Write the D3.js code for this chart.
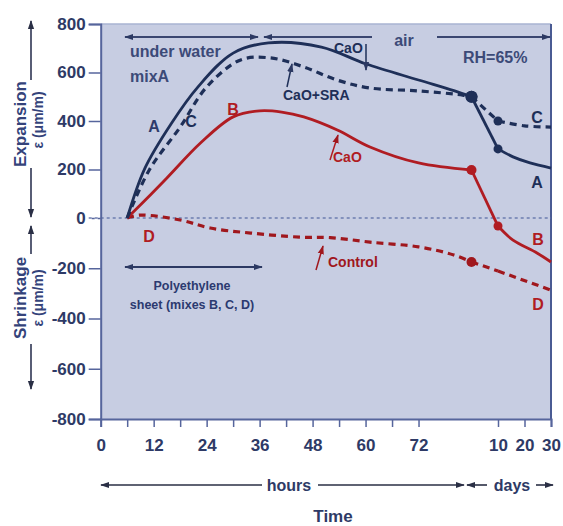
<!DOCTYPE html>
<html>
<head>
<meta charset="utf-8">
<script src="https://cdn.jsdelivr.net/npm/d3@7"></script>
<style>
  html, body { margin: 0; padding: 0; background: #ffffff; }
  svg { display: block; }
  text { font-family: "Liberation Sans", Arial, Helvetica, sans-serif; font-weight: bold; }
</style>
</head>
<body>
<svg id="chart" width="563" height="526"></svg>
<script>
// Strain development of the four mixes, time in hours (days converted to hours)
const hoursA  = [6, 10, 16, 22, 30, 38, 50, 60, 72, 80, 84, 240, 376, 530, 720];
const strainA = [0, 205, 390, 540, 680, 722, 705, 636, 569, 525, 500, 285, 252, 227, 206];

const hoursC  = [6, 11, 18, 24, 31.7, 38.5, 46, 53.5, 61, 72, 82, 84, 240, 480, 720];
const strainC = [0, 198, 375, 540, 652, 660, 623, 569, 536, 524, 507, 500, 400, 380, 375];

const hoursB  = [6, 10, 15, 22.6, 30, 36, 41, 46, 53.6, 61, 72, 84, 240, 376, 593, 720];
const strainB = [0, 72, 165, 309, 417, 442, 437, 417, 363, 293, 227, 198, -32, -88, -139, -175];

const hoursD  = [6, 9, 18, 24.8, 34, 45, 52, 61, 72, 80, 84, 240, 720];
const strainD = [0, 12, -8, -40, -60, -76, -78, -96, -115, -147, -175, -211, -287];

// Measurement points marked with dots
const dotHoursA = [84, 240];
const dotHoursC = [84, 240];
const dotHoursB = [84, 240];
const dotHoursD = [84];

// End of moist curing and the 10-day reading (hours): the curves bend sharply there
const breakHours = [84, 240];

// Axis ticks
const yTicks = [-800, -600, -400, -200, 0, 200, 400, 600, 800];
const xTickHours = [0, 6, 12, 18, 24, 30, 36, 42, 48, 54, 60, 66, 72, 240, 480, 720];
const xTickText  = ["0", "", "12", "", "24", "", "36", "", "48", "", "60", "", "72", "10", "20", "30"];

// ---------------------------------------------------------------------
const svg = d3.select("#chart");
const navy = "#1e2f58";
const red = "#b01c22";
const darkRed = "#a0171d";
const textNavy = "#2e3a66";
const axisBlue = "#56659c";

const plotL = 100.7, plotR = 551, plotT = 24, plotB = 419;

// Hours run linearly to 84 h; the days part (10, 20, 30 d) is compressed
const x = d3.scaleLinear()
  .domain([0, 84, 240, 720])
  .range([plotL, 471.5, 498, plotR]);

const y = d3.scaleLinear()
  .domain([-800, 0, 800])
  .range([plotB, 218, plotT]);

// arrowheads
const defs = svg.append("defs");
function marker(id, color, size) {
  defs.append("marker")
    .attr("id", id)
    .attr("viewBox", "0 0 10 10")
    .attr("refX", 9).attr("refY", 5)
    .attr("markerWidth", size).attr("markerHeight", size)
    .attr("markerUnits", "userSpaceOnUse")
    .attr("orient", "auto-start-reverse")
    .append("path")
    .attr("d", "M0,1.5 L10,5 L0,8.5 Z")
    .attr("fill", color);
}
marker("arrNavy", "#2c3963", 9);
marker("arrRed", "#a0171d", 9);
marker("arrBlk", "#2a2f45", 9);

// plot area
svg.append("rect")
  .attr("x", plotL).attr("y", plotT)
  .attr("width", plotR - plotL).attr("height", plotB - plotT)
  .attr("fill", "#c7cde2");
svg.append("line")
  .attr("x1", plotL).attr("x2", plotR).attr("y1", plotT).attr("y2", plotT)
  .attr("stroke", "#a9b3d2").attr("stroke-width", 1.5);
svg.append("line")
  .attr("x1", plotR).attr("x2", plotR).attr("y1", plotT).attr("y2", plotB)
  .attr("stroke", "#4a5b93").attr("stroke-width", 2);

// zero reference line
svg.append("line")
  .attr("x1", plotL - 12).attr("x2", plotR).attr("y1", y(0)).attr("y2", y(0))
  .attr("stroke", "#6d7db0").attr("stroke-width", 1.3)
  .attr("stroke-dasharray", "3,3");

const tickFont = "'Liberation Sans', Arial, sans-serif";

// y axis
const yAxis = svg.append("g")
  .attr("transform", `translate(${plotL},0)`)
  .call(d3.axisLeft(y).tickValues(yTicks).tickSize(12).tickPadding(3).tickFormat(d => String(d)));
yAxis.select(".domain").attr("stroke", axisBlue).attr("stroke-width", 2);
yAxis.selectAll(".tick line").attr("stroke", axisBlue).attr("stroke-width", 1.5)
  .filter(d => d === 0).attr("stroke-dasharray", "3,3").attr("stroke-width", 1.3);
yAxis.selectAll(".tick text")
  .attr("fill", textNavy).attr("font-size", 17)
  .style("font-family", tickFont).style("font-weight", "bold");

// x axis
const xAxis = svg.append("g")
  .attr("transform", `translate(0,${plotB})`)
  .call(d3.axisBottom(x).tickValues(xTickHours).tickSize(8).tickPadding(12)
    .tickFormat((d, i) => xTickText[i]));
xAxis.select(".domain").attr("stroke", axisBlue).attr("stroke-width", 2);
xAxis.selectAll(".tick line").attr("stroke", axisBlue).attr("stroke-width", 1.5);
xAxis.selectAll(".tick text")
  .attr("fill", textNavy).attr("font-size", 17)
  .style("font-family", tickFont).style("font-weight", "bold");

// curves: drawn in pieces between the break points so those bends stay sharp
const line = d3.line().x(d => x(d[0])).y(d => y(d[1])).curve(d3.curveCatmullRom.alpha(0.5));

function series(hours, strain, dots, color, dashed, firstDotR) {
  const pts = hours.map((h, i) => [h, strain[i]]);
  const edges = [-Infinity, ...breakHours, Infinity];
  for (let k = 0; k < edges.length - 1; k++) {
    const seg = pts.filter(p => p[0] >= edges[k] && p[0] <= edges[k + 1]);
    if (seg.length < 2) continue;
    svg.append("path")
      .attr("d", line(seg))
      .attr("fill", "none")
      .attr("stroke", color)
      .attr("stroke-width", dashed ? 3.2 : 2.8)
      .attr("stroke-dasharray", dashed ? "7,5" : null)
      .attr("stroke-linejoin", "round");
  }
  dots.forEach((h, i) => {
    const v = strain[hours.indexOf(h)];
    svg.append("circle")
      .attr("cx", x(h)).attr("cy", y(v))
      .attr("r", i === 0 ? firstDotR : 4.5)
      .attr("fill", color);
  });
}

series(hoursD, strainD, dotHoursD, darkRed, true, 5);
series(hoursB, strainB, dotHoursB, red, false, 5);
series(hoursC, strainC, dotHoursC, navy, true, 6);
series(hoursA, strainA, dotHoursA, navy, false, 6);

// text helper
function label(txt, px, py, opts = {}) {
  return svg.append("text")
    .attr("x", px).attr("y", py)
    .attr("fill", opts.color || textNavy)
    .attr("font-size", opts.size || 16)
    .attr("text-anchor", opts.anchor || "start")
    .text(txt);
}
function arrow(x1, y1, x2, y2, color, mk, both, w) {
  const l = svg.append("line")
    .attr("x1", x1).attr("y1", y1).attr("x2", x2).attr("y2", y2)
    .attr("stroke", color).attr("stroke-width", w || 1.8)
    .attr("marker-end", `url(#${mk})`);
  if (both) l.attr("marker-start", `url(#${mk})`);
}

// curing regime annotations
arrow(125, 37, 258, 37, "#3a4670", "arrNavy", true);
arrow(372, 37, 264, 37, "#3a4670", "arrNavy", false);
arrow(437, 37, 550, 37, "#3a4670", "arrNavy", false);
label("under water", 130, 57, { color: "#3c4a78" });
label("mixA", 130, 82, { color: "#3c4a78" });
label("air", 404, 46, { color: "#3c4a78", anchor: "middle" });
label("RH=65%", 463, 63, { color: "#3c4a78" });

arrow(125, 267, 262, 267, "#2c3963", "arrNavy", true);
label("Polyethylene", 192, 290, { size: 12.5, anchor: "middle", color: "#2c3a70" });
label("sheet (mixes B, C, D)", 192, 309, { size: 12.5, anchor: "middle", color: "#2c3a70" });

// curve annotations
label("CaO", 334, 53, { size: 14, color: navy });
arrow(366, 44, 366, 70, navy, "arrNavy", false, 1.5);
label("CaO+SRA", 283, 100, { size: 14, color: navy });
arrow(287, 87, 292, 64, navy, "arrNavy", false, 1.5);
label("CaO", 333, 162, { size: 14, color: red });
arrow(330, 160, 338, 135, red, "arrRed", false, 1.5);
label("Control", 328, 267, { size: 14, color: darkRed });
arrow(316, 270, 323, 246, darkRed, "arrRed", false, 1.5);

// series letters
label("A", 154, 132, { anchor: "middle", color: "#2e3b6a" });
label("C", 191, 127, { anchor: "middle", color: navy });
label("B", 233, 115, { anchor: "middle", color: red });
label("D", 149, 242, { anchor: "middle", color: red });
label("C", 537, 123, { anchor: "middle", color: navy });
label("A", 537, 188, { anchor: "middle", color: navy });
label("B", 538, 245, { anchor: "middle", color: red });
label("D", 538, 310, { anchor: "middle", color: red });

// y axis titles with direction arrows
function vText(txt, px, py, size) {
  svg.append("text")
    .attr("transform", `translate(${px},${py}) rotate(-90)`)
    .attr("text-anchor", "middle")
    .attr("fill", "#34437a")
    .attr("font-size", size)
    .text(txt);
}
vText("Expansion", 26, 124, 17);
vText("ε (μm/m)", 43, 120, 14);
vText("Shrinkage", 26, 298, 17);
vText("ε (μm/m)", 43, 298, 14);
arrow(31, 80, 31, 21, "#2f3553", "arrBlk", false, 1.6);
arrow(31, 168, 31, 217, "#2f3553", "arrBlk", false, 1.6);
arrow(31, 254, 31, 226, "#2f3553", "arrBlk", false, 1.6);
arrow(31, 344, 31, 389, "#2f3553", "arrBlk", false, 1.6);

// x axis titles
arrow(262, 485, 101, 485, "#2a2f45", "arrBlk", false, 1.6);
arrow(318, 485, 464, 485, "#2a2f45", "arrBlk", false, 1.6);
label("hours", 289, 491, { anchor: "middle", color: textNavy });
arrow(487, 485, 467, 485, "#2a2f45", "arrBlk", false, 1.6);
arrow(536, 485, 553, 485, "#2a2f45", "arrBlk", false, 1.6);
label("days", 512, 491, { anchor: "middle", color: textNavy });
label("Time", 333, 522, { anchor: "middle", size: 17, color: textNavy });
</script>
</body>
</html>
